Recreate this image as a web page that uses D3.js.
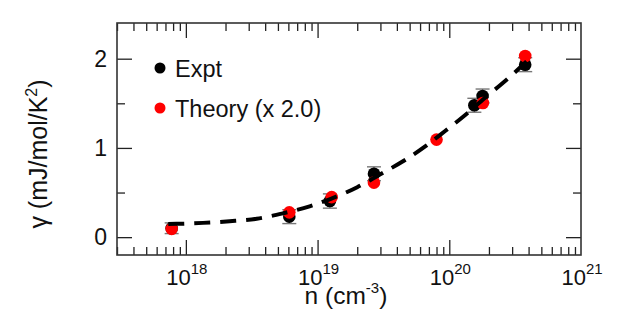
<!DOCTYPE html>
<html>
<head>
<meta charset="utf-8">
<script src="https://cdn.jsdelivr.net/npm/d3@7"></script>
<style>
  html, body { margin: 0; padding: 0; background: #fff; }
  svg { display: block; }
  text { font-family: "Liberation Sans", Arial, sans-serif; fill: #111; }
</style>
</head>
<body>
<svg id="chart" width="622" height="334"></svg>
<script>
// ---- Data ----
const exptN      = [7.8e17, 6.1e18, 1.24e19, 2.68e19, 1.55e20, 1.79e20, 3.77e20];
const exptGamma  = [0.10, 0.23, 0.405, 0.71, 1.478, 1.582, 1.933];
const exptErr    = [0.06, 0.078, 0.08, 0.078, 0.078, 0.078, 0.078];

const theoryN     = [7.8e17, 6.1e18, 1.28e19, 2.68e19, 8.0e19, 1.8e20, 3.77e20];
const theoryGamma = [0.093, 0.278, 0.449, 0.611, 1.093, 1.504, 2.03];

// dashed fit curve, sampled along the drawn line
const curveN     = [7.35e17, 8.5e17, 1.35e18, 2.15e18, 3.45e18, 5.5e18, 8.7e18, 1.26e19, 2.0e19, 2.95e19, 4.45e19, 6.6e19, 9.3e19, 1.35e20, 1.86e20, 2.75e20, 3.8e20, 4.25e20];
const curveGamma = [0.147, 0.149, 0.16, 0.178, 0.206, 0.268, 0.345, 0.43, 0.56, 0.70, 0.85, 1.02, 1.19, 1.38, 1.56, 1.77, 1.96, 2.03];

const xDomain = [3e17, 1e21];
const yDomain = [-0.2, 2.4];
const xMajorTicks = [1e18, 1e19, 1e20, 1e21];
const xTickExp = ["18", "19", "20", "21"];
const yMajorTicks = [0, 1, 2];
const yMinorTicks = [0.5, 1.5];
const legendLabels = ["Expt", "Theory (x 2.0)"];
const seriesColors = ["#000000", "#ff0000"];

// ---- Layout ----
const W = 622, H = 334;
const m = { left: 117, right: 581, top: 23, bottom: 255 };
const svg = d3.select("#chart");

const x = d3.scaleLog().domain(xDomain).range([m.left, m.right]);
const y = d3.scaleLinear().domain(yDomain).range([m.bottom, m.top]);

// minor x ticks: 2..9 within each decade inside domain
const xMinorTicks = [];
for (let e = 17; e <= 20; e++) {
  for (let k = 2; k <= 9; k++) {
    const v = k * Math.pow(10, e);
    if (v > xDomain[0] * 0.999 && v < xDomain[1]) xMinorTicks.push(v);
  }
}

const MAJ = 15, MIN = 8;
const tickColor = "#222";

function drawAxis(axisGen, transform) {
  const g = svg.append("g").attr("transform", transform).call(axisGen);
  g.select(".domain").remove();
  g.selectAll("line").attr("stroke", tickColor).attr("stroke-width", 1.3);
  g.selectAll("text").remove();
  return g;
}

// bottom/top x ticks (inward)
drawAxis(d3.axisBottom(x).tickValues(xMajorTicks.filter(v => v < xDomain[1])).tickSize(-MAJ).tickFormat(""), `translate(0,${m.bottom})`);
drawAxis(d3.axisBottom(x).tickValues(xMinorTicks).tickSize(-MIN).tickFormat(""), `translate(0,${m.bottom})`);
drawAxis(d3.axisTop(x).tickValues(xMajorTicks.filter(v => v < xDomain[1])).tickSize(-MAJ).tickFormat(""), `translate(0,${m.top})`);
drawAxis(d3.axisTop(x).tickValues(xMinorTicks).tickSize(-MIN).tickFormat(""), `translate(0,${m.top})`);
// left/right y ticks (inward)
drawAxis(d3.axisLeft(y).tickValues(yMajorTicks).tickSize(-MAJ).tickFormat(""), `translate(${m.left},0)`);
drawAxis(d3.axisLeft(y).tickValues(yMinorTicks).tickSize(-MIN).tickFormat(""), `translate(${m.left},0)`);
drawAxis(d3.axisRight(y).tickValues(yMajorTicks).tickSize(-MAJ).tickFormat(""), `translate(${m.right},0)`);
drawAxis(d3.axisRight(y).tickValues(yMinorTicks).tickSize(-MIN).tickFormat(""), `translate(${m.right},0)`);

// frame
svg.append("rect")
  .attr("x", m.left).attr("y", m.top)
  .attr("width", m.right - m.left).attr("height", m.bottom - m.top)
  .attr("fill", "none").attr("stroke", "#333").attr("stroke-width", 1.6);

// x tick labels: 10^n
const xl = svg.append("g");
xMajorTicks.forEach((v, i) => {
  const t = xl.append("text")
    .attr("x", x(v) + 1).attr("y", 285)
    .attr("text-anchor", "middle")
    .attr("font-size", 22);
  t.append("tspan").text("10");
  t.append("tspan").attr("dy", -11).attr("font-size", 15).text(xTickExp[i]);
});

// y tick labels
svg.append("g").selectAll("text").data(yMajorTicks).join("text")
  .attr("x", 107).attr("y", d => y(d))
  .attr("dy", "0.36em")
  .attr("text-anchor", "end")
  .attr("font-size", 23)
  .text(d => d);

// axis titles
const xt = svg.append("text")
  .attr("x", 346).attr("y", 304)
  .attr("text-anchor", "middle").attr("font-size", 24.5);
xt.append("tspan").text("n (cm");
xt.append("tspan").attr("dy", -11).attr("font-size", 15).text("-3");
xt.append("tspan").attr("dy", 11).text(")");

const yt = svg.append("text")
  .attr("transform", "translate(47,154) rotate(-90)")
  .attr("text-anchor", "middle").attr("font-size", 25);
yt.append("tspan").text("\u03b3 (mJ/mol/K");
yt.append("tspan").attr("dy", -10).attr("font-size", 16).text("2");
yt.append("tspan").attr("dy", 10).text(")");

// error bars
const plot = svg.append("g");
const eb = plot.append("g").attr("stroke", "#777").attr("stroke-width", 1.4);
exptN.forEach((n, i) => {
  const cx = x(n);
  const y1 = y(exptGamma[i] + exptErr[i]), y0 = y(exptGamma[i] - exptErr[i]);
  eb.append("line").attr("x1", cx).attr("x2", cx).attr("y1", y1).attr("y2", y0);
  eb.append("line").attr("x1", cx - 7).attr("x2", cx + 7).attr("y1", y1).attr("y2", y1);
  eb.append("line").attr("x1", cx - 7).attr("x2", cx + 7).attr("y1", y0).attr("y2", y0);
});

// experiment points
plot.append("g").selectAll("circle").data(exptN).join("circle")
  .attr("cx", d => x(d)).attr("cy", (d, i) => y(exptGamma[i]))
  .attr("r", 6.3).attr("fill", seriesColors[0]);

// theory points
plot.append("g").selectAll("circle").data(theoryN).join("circle")
  .attr("cx", d => x(d)).attr("cy", (d, i) => y(theoryGamma[i]))
  .attr("r", 6.3).attr("fill", seriesColors[1]);

// dashed fit curve
const line = d3.line()
  .x(d => x(d[0])).y(d => y(d[1]))
  .curve(d3.curveMonotoneX);
plot.append("path")
  .datum(curveN.map((n, i) => [n, curveGamma[i]]))
  .attr("d", line)
  .attr("fill", "none").attr("stroke", "#000")
  .attr("stroke-width", 4).attr("stroke-dasharray", "16,10");

// legend
const lg = svg.append("g");
legendLabels.forEach((lab, i) => {
  const ly = [68, 108][i];
  lg.append("circle").attr("cx", 160).attr("cy", ly).attr("r", 5.5).attr("fill", seriesColors[i]);
  lg.append("text").attr("x", 175).attr("y", ly + 8.5).attr("font-size", 23.5).text(lab);
});
</script>
</body>
</html>
